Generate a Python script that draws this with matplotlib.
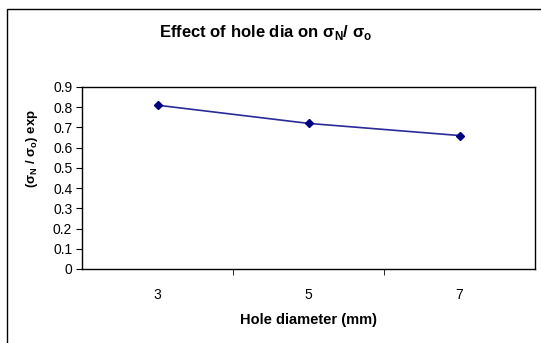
import matplotlib
matplotlib.use("Agg")
import matplotlib.pyplot as plt
from matplotlib.patches import Rectangle

categories = ["3", "5", "7"]
values = [0.81, 0.72, 0.66]
yticks = [0, 0.1, 0.2, 0.3, 0.4, 0.5, 0.6, 0.7, 0.8, 0.9]

plt.rcParams['font.family'] = ['Liberation Sans', 'DejaVu Sans']
plt.rcParams['mathtext.fontset'] = 'custom'
plt.rcParams['mathtext.rm'] = 'Liberation Sans'
plt.rcParams['mathtext.bf'] = 'Liberation Sans:bold'

W, H = 541, 343
fig = plt.figure(figsize=(W/100, H/100), dpi=100)
fig.patch.set_facecolor('white')

# outer chart frame
fig.patches.append(Rectangle((7/W, -0.1), 1.2, (H-9)/H + 0.1, transform=fig.transFigure,
                             fill=False, edgecolor='black', linewidth=1.0))

left, right, top, bottom = 82, 535, 87, 269
ax = fig.add_axes([left/W, 1-bottom/H, (right-left)/W, (bottom-top)/H])
x = list(range(len(categories)))
ax.plot(x, values, color='#2a2a9a', linewidth=1.2, marker='D', markersize=4,
        markerfacecolor='#000080', markeredgecolor='#000080')
ax.set_xlim(-0.5, len(categories)-0.5)
ax.set_ylim(0, 0.9)
ax.set_yticks(yticks)
ax.set_yticklabels([f"{t:g}" for t in yticks], fontsize=10)
ax.set_xticks(x)
ax.set_xticklabels(categories, fontsize=10)
ax.tick_params(axis='x', length=0, pad=14)
ax.set_xticks([i + 0.5 for i in x[:-1]], minor=True)
ax.tick_params(axis='x', which='minor', length=4, direction='out')
ax.tick_params(axis='y', length=4, direction='out', pad=3)
for s in ax.spines.values():
    s.set_linewidth(1.0)
    s.set_color('black')

fig.text(266/W, 1 - 33/H,
         r"Effect of hole dia on σ$_\mathbf{N}$/ σ$_\mathbf{o}$",
         ha='center', va='center', fontsize=12, fontweight='bold')
fig.text(32/W, 1 - 148/H, r"(σ$_\mathbf{N}$ / σ$_\mathbf{o}$) exp",
         ha='center', va='center', rotation=90, fontsize=9.5, fontweight='bold')
fig.text(308/W, 1 - 320/H, "Hole diameter (mm)",
         ha='center', va='center', fontsize=10.5, fontweight='bold')

fig.savefig("out.png", dpi=100)
